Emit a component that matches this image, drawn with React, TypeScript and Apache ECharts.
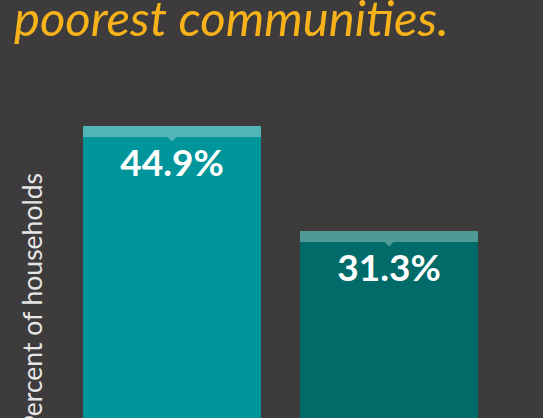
import React, { useEffect, useRef } from "react";
import * as echarts from "echarts";

const categories = ["Group A", "Group B"];
const values = [44.9, 31.3];
const valueLabels = ["44.9%", "31.3%"];
const barColors = ["#00959a", "#006b68"];
const capColors = ["#52b5b8", "#4f9a95"];
const titleText = "poorest communities.";
const yAxisName = "Percent of households";

export default function App() {
  const ref = useRef<HTMLDivElement>(null);
  useEffect(() => {
    if (!ref.current) return;
    const chart = echarts.init(ref.current, undefined, { renderer: "svg" });
    chart.setOption({
      animation: false,
      backgroundColor: "#3d3b3c",
      grid: { left: 63.5, right: 45.5, top: 86.6, bottom: 0, containLabel: false },
      xAxis: { type: "category", data: categories, show: false },
      yAxis: { type: "value", min: 7.08, max: 50, show: false },
      graphic: [
        {
          type: "text",
          left: 14,
          top: -8,
          style: {
            text: titleText,
            font: "italic 49px Lato",
            fill: "#f9b31a",
          },
        },
        {
          type: "text",
          x: 32,
          y: 173,
          rotation: Math.PI / 2,
          style: {
            text: yAxisName,
            font: "400 26.5px Lato",
            fill: "#e6e6e6",
            align: "right",
            verticalAlign: "middle",
          },
        },
      ],
      series: [
        {
          type: "custom",
          clip: false,
          data: values.map((v, i) => [i, v]),
          renderItem: (params: any, api: any) => {
            const idx = params.dataIndex;
            const top = api.coord([api.value(0), api.value(1)]);
            const base = api.coord([api.value(0), 0]);
            const bandW = api.size([1, 0])[0];
            const w = bandW * 0.82;
            const x = top[0];
            const y = top[1];
            const capH = 11;
            return {
              type: "group",
              children: [
                {
                  type: "rect",
                  shape: { x: x - w / 2, y, width: w, height: base[1] - y },
                  style: { fill: barColors[idx] },
                },
                {
                  type: "rect",
                  shape: { x: x - w / 2, y, width: w, height: capH },
                  style: { fill: capColors[idx] },
                },
                {
                  type: "polygon",
                  shape: {
                    points: [
                      [x - 4.5, y + capH],
                      [x + 4.5, y + capH],
                      [x, y + capH + 4.5],
                    ],
                  },
                  style: { fill: capColors[idx] },
                },
                {
                  type: "text",
                  x,
                  y: y + 36,
                  style: {
                    text: valueLabels[idx],
                    font: "bold 37px Lato",
                    fill: "#ffffff",
                    align: "center",
                    verticalAlign: "middle",
                  },
                },
              ],
            };
          },
        },
      ],
    });
    return () => chart.dispose();
  }, []);
  return (
    <div
      ref={ref}
      style={{ position: "fixed", left: 0, top: 0, width: 543, height: 418 }}
    />
  );
}
